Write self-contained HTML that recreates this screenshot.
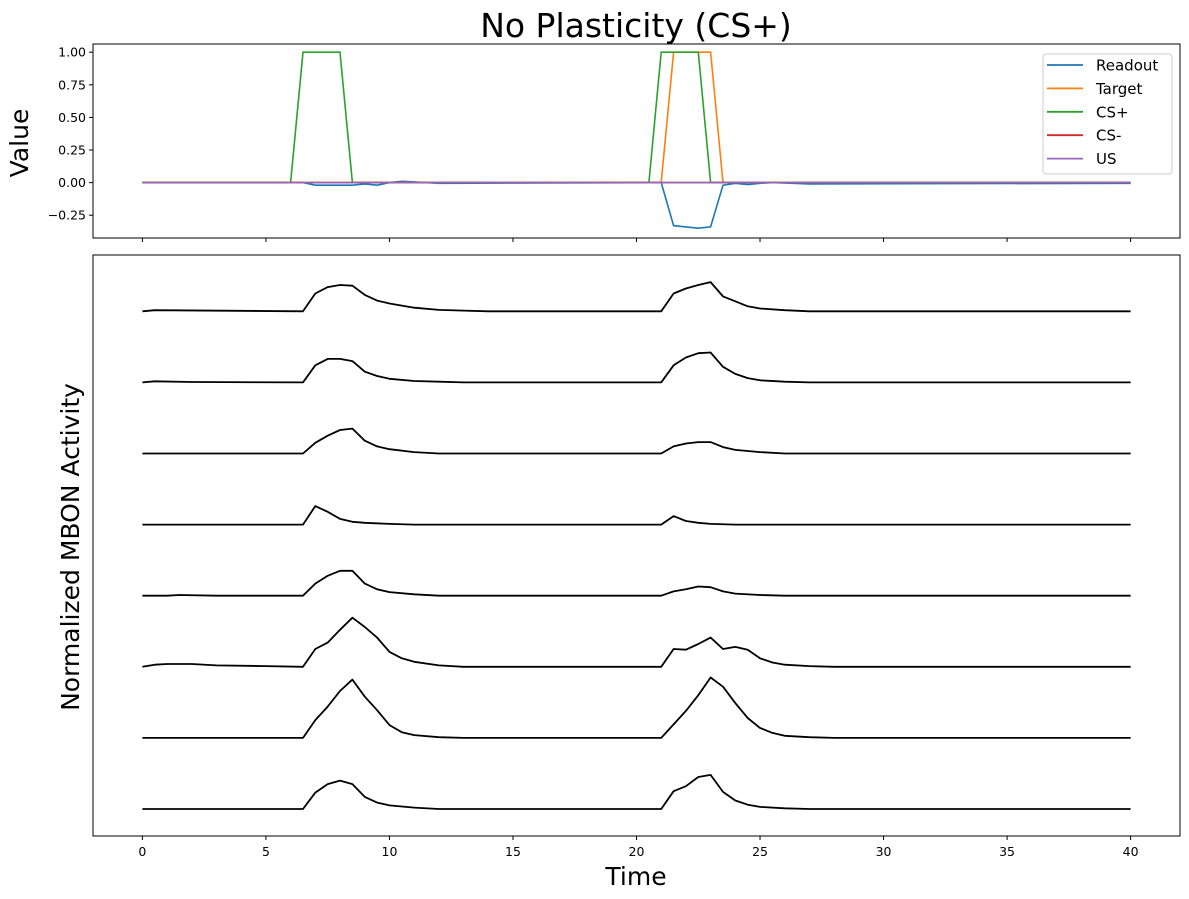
<!DOCTYPE html>
<html><head><meta charset="utf-8"><style>
html,body{margin:0;padding:0;background:#fff;}
svg{display:block;font-family:"DejaVu Sans","Liberation Sans",sans-serif;}
</style></head><body>
<svg id="fig" width="1189" height="899" viewBox="0 0 1189 899" xmlns="http://www.w3.org/2000/svg">
<rect width="1189" height="899" fill="#fff"/>
<text x="636" y="37" font-size="33" text-anchor="middle">No Plasticity (CS+)</text>
<text transform="translate(28,143) rotate(-90)" font-size="25" text-anchor="middle">Value</text>
<text transform="translate(79,547) rotate(-90)" font-size="25" text-anchor="middle">Normalized MBON Activity</text>
<text x="636" y="885" font-size="25" text-anchor="middle">Time</text>
<g id="topPanel"></g>
<g id="botPanel"></g>
</svg>
<script>
// ---- top panel data ----
const readoutT = [0,6.5,7,8.5,9,9.5,10,10.5,11,12,21,21.5,22,22.5,23,23.5,24,24.5,25,25.5,27,40];
const readoutV = [0,0,-0.02,-0.02,-0.01,-0.02,0,0.01,0.005,-0.005,0,-0.33,-0.34,-0.35,-0.34,-0.02,-0.005,-0.015,-0.005,0,-0.01,-0.005];
const targetT = [0,21,21.5,23,23.5,40];
const targetV = [0,0,1,1,0,0];
const csPlusT = [0,6,6.5,8,8.5,20.5,21,22.5,23,40];
const csPlusV = [0,0,1,1,0,0,1,1,0,0];
const csMinusT = [0,40];
const csMinusV = [0,0];
const usT = [0,40];
const usV = [0,0];
const topYTicks = [1.0,0.75,0.5,0.25,0.0,-0.25];
const topYTickLabels = ["1.00","0.75","0.50","0.25","0.00","−0.25"];
const xTicks = [0,5,10,15,20,25,30,35,40];
const legendLabels = ["Readout","Target","CS+","CS-","US"];
// ---- bottom panel data (each trace: times & values above its baseline) ----
const tr0T=[0,0.5,6.5,7,7.5,8,8.5,9,9.5,10,11,12,13,14,21,21.5,22,22.5,23,23.5,24,24.5,25,26,27,40];
const tr0V=[0,0.015,0,0.25,0.34,0.37,0.36,0.23,0.15,0.11,0.05,0.02,0.01,0,0,0.25,0.32,0.37,0.41,0.21,0.14,0.07,0.04,0.015,0,0];
const tr1T=[0,0.5,2,6.5,7,7.5,8,8.5,9,9.5,10,11,12,13,21,21.5,22,22.5,23,23.5,24,24.5,25,26,27,40];
const tr1V=[0,0.015,0.005,0,0.24,0.33,0.33,0.3,0.15,0.09,0.05,0.02,0.01,0,0,0.24,0.35,0.41,0.42,0.22,0.12,0.06,0.03,0.01,0,0];
const tr2T=[0,6.5,7,7.5,8,8.5,9,9.5,10,11,12,21,21.5,22,22.5,23,23.5,24,25,26,40];
const tr2V=[0,0,0.15,0.25,0.33,0.35,0.18,0.1,0.06,0.02,0,0,0.1,0.14,0.16,0.16,0.09,0.05,0.02,0,0];
const tr3T=[0,6.5,7,7.5,8,8.5,9,10,11,21,21.5,22,22.5,23,24,40];
const tr3V=[0,0,0.26,0.18,0.08,0.04,0.025,0.01,0,0,0.12,0.05,0.025,0.01,0,0];
const tr4T=[0,1,1.5,3,6.5,7,7.5,8,8.5,9,9.5,10,11,12,21,21.5,22,22.5,23,23.5,24,25,26,40];
const tr4V=[0,0,0.01,0,0,0.17,0.28,0.35,0.35,0.17,0.09,0.05,0.02,0,0,0.06,0.09,0.13,0.12,0.06,0.03,0.01,0,0];
const tr5T=[0,0.5,1,2,3,5,6.5,7,7.5,8,8.5,9,9.5,10,10.5,11,12,13,21,21.5,22,22.5,23,23.5,24,24.5,25,25.5,26,27,28,40];
const tr5V=[0,0.03,0.04,0.04,0.02,0.01,0,0.25,0.34,0.52,0.69,0.56,0.41,0.21,0.12,0.07,0.02,0,0,0.25,0.24,0.32,0.41,0.25,0.28,0.24,0.12,0.06,0.03,0.01,0,0];
const tr6T=[0,6.5,7,7.5,8,8.5,9,9.5,10,10.5,11,12,13,21,21.5,22,22.5,23,23.5,24,24.5,25,25.5,26,27,28,40];
const tr6V=[0,0,0.25,0.44,0.66,0.82,0.58,0.39,0.18,0.08,0.04,0.01,0,0,0.19,0.38,0.6,0.85,0.72,0.49,0.28,0.14,0.07,0.03,0.01,0,0];
const tr7T=[0,6.5,7,7.5,8,8.5,9,9.5,10,11,12,21,21.5,22,22.5,23,23.5,24,24.5,25,26,27,40];
const tr7V=[0,0,0.23,0.35,0.4,0.35,0.17,0.09,0.05,0.02,0,0,0.25,0.32,0.45,0.48,0.24,0.12,0.06,0.03,0.01,0,0];

const NS="http://www.w3.org/2000/svg";
function mk(tag,attrs,parent){const e=document.createElementNS(NS,tag);for(const k in attrs)e.setAttribute(k,attrs[k]);parent.appendChild(e);return e;}
const X0=93,X1=1180;
const xs=t=>X0+(t+2)/44*(X1-X0);
// top axes
const TY0=44,TY1=238;
const ys=v=>182.6-v*130.4;
const topG=document.getElementById('topPanel');
const topSeries=[[readoutT,readoutV,'#1f77b4'],[targetT,targetV,'#ff7f0e'],[csPlusT,csPlusV,'#2ca02c'],[csMinusT,csMinusV,'#d62728'],[usT,usV,'#9467bd']];
const seriesNames=['line-readout','line-target','line-cs-plus','line-cs-minus','line-us'];
topSeries.forEach((s,i)=>{
  const p=mk('polyline',{points:s[0].map((t,j)=>xs(t).toFixed(1)+','+ys(s[1][j]).toFixed(1)).join(' '),fill:'none',stroke:s[2],'stroke-width':1.6},topG);
  
  
});
mk('rect',{x:X0,y:TY0,width:X1-X0,height:TY1-TY0,fill:'none',stroke:'#000','stroke-width':1},topG);
topYTicks.forEach((v,i)=>{
  mk('line',{x1:X0-4,x2:X0,y1:ys(v),y2:ys(v),stroke:'#000'},topG);
  const t=mk('text',{x:X0-7,y:ys(v)+4.5,'font-size':12.5,'text-anchor':'end'},topG);t.textContent=topYTickLabels[i];
  
  
});
xTicks.forEach(v=>{mk('line',{x1:xs(v),x2:xs(v),y1:TY1,y2:TY1+4,stroke:'#000'},topG);});
// legend
const lg=mk('g',{},topG);


mk('rect',{x:1043,y:54,width:129,height:120,rx:3,fill:'#fff','fill-opacity':0.8,stroke:'#ccc'},lg);
legendLabels.forEach((l,i)=>{
  const y=65+i*23.4;
  const g=mk('g',{},lg);
  
  
  mk('line',{x1:1047,x2:1083,y1:y,y2:y,stroke:topSeries[i][2],'stroke-width':1.8},g);
  const t=mk('text',{x:1096,y:y+5.5,'font-size':15},g);t.textContent=l;
});
// bottom axes
const BY0=255,BY1=836;
const yb=v=>809-v*71.1;
const botG=document.getElementById('botPanel');
const traces=[[tr0T,tr0V],[tr1T,tr1V],[tr2T,tr2V],[tr3T,tr3V],[tr4T,tr4V],[tr5T,tr5V],[tr6T,tr6V],[tr7T,tr7V]];
traces.forEach((s,i)=>{
  const off=7-i;
  const p=mk('polyline',{points:s[0].map((t,j)=>xs(t).toFixed(1)+','+yb(off+s[1][j]).toFixed(1)).join(' '),fill:'none',stroke:'#000','stroke-width':1.8,'stroke-linejoin':'round'},botG);
  
  
});
mk('rect',{x:X0,y:BY0,width:X1-X0,height:BY1-BY0,fill:'none',stroke:'#000','stroke-width':1},botG);
xTicks.forEach(v=>{
  mk('line',{x1:xs(v),x2:xs(v),y1:BY1,y2:BY1+4,stroke:'#000'},botG);
  const t=mk('text',{x:xs(v),y:BY1+20,'font-size':12.5,'text-anchor':'middle'},botG);t.textContent=v;
  
  
});
</script>
</body></html>
